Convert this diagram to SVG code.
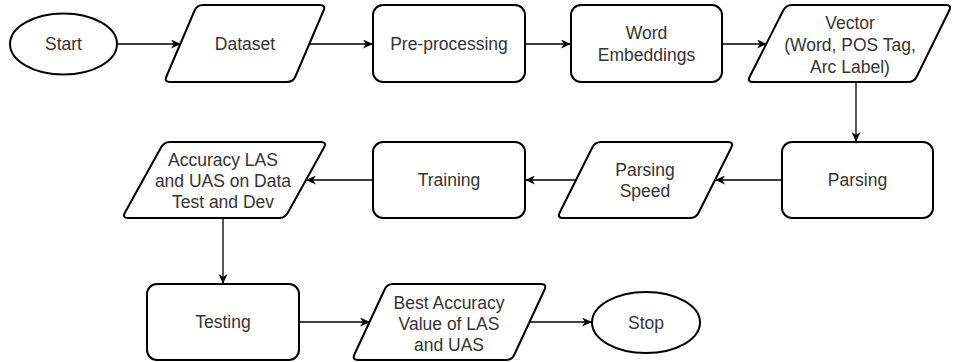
<svg xmlns="http://www.w3.org/2000/svg" width="958" height="362" viewBox="0 0 958 362">
<defs>
<marker id="arr" markerUnits="userSpaceOnUse" markerWidth="11" markerHeight="9" refX="10" refY="4.5" orient="auto">
<path d="M0,0 L10,4.5 L0,9 L3,4.5 Z" fill="#000"/>
</marker>
<style>
.shape{fill:#fff;stroke:#000;stroke-width:2}
.conn{fill:none;stroke:#000;stroke-width:1.3;marker-end:url(#arr)}
text{font-family:"Liberation Sans",Arial,sans-serif;font-size:17.5px;fill:#333;text-anchor:middle;dominant-baseline:central}
</style>
</defs>
<rect width="958" height="362" fill="#fff"/>
<g id="connectors">
<path class="conn" d="M117,44 H181"/>
<path class="conn" d="M310,44 H373"/>
<path class="conn" d="M525,44 H571"/>
<path class="conn" d="M722,44 H767"/>
<path class="conn" d="M856,82 V142"/>
<path class="conn" d="M782,180 H715"/>
<path class="conn" d="M576,180 H525"/>
<path class="conn" d="M373,180 H306"/>
<path class="conn" d="M223,218 V284"/>
<path class="conn" d="M299,322 H370"/>
<path class="conn" d="M530,322 H592"/>
</g>
<g id="start">
<ellipse class="shape" cx="63.5" cy="44" rx="53.5" ry="30.5"/>
<text x="63.5" y="44">Start</text>
</g>
<g id="dataset">
<path class="shape" d="M203,5 H320 Q326,5 323.6,10.5 L295.4,76.5 Q293,82 287,82 H170 Q164,82 166.4,76.5 L194.6,10.5 Q197,5 203,5 Z"/>
<text x="245" y="44">Dataset</text>
</g>
<g id="preprocessing">
<rect class="shape" x="373" y="5" width="152" height="77" rx="10"/>
<text x="449" y="44">Pre-processing</text>
</g>
<g id="word-embeddings">
<rect class="shape" x="571" y="5" width="151" height="77" rx="10"/>
<text x="646.5" y="33">Word</text>
<text x="646.5" y="55">Embeddings</text>
</g>
<g id="vector">
<path class="shape" d="M792,5 H946 Q952,5 949.2,10.5 L916.8,76.5 Q914,82 908,82 H753 Q747,82 749.8,76.5 L783.2,10.5 Q786,5 792,5 Z"/>
<text x="850" y="23">Vector</text>
<text x="850" y="45">(Word, POS Tag,</text>
<text x="850" y="67">Arc Label)</text>
</g>
<g id="parsing">
<rect class="shape" x="782" y="142" width="151" height="76" rx="10"/>
<text x="857.5" y="180">Parsing</text>
</g>
<g id="parsing-speed">
<path class="shape" d="M601,142 H728 Q734,142 731.3,147.5 L698.7,212.5 Q696,218 690,218 H563 Q557,218 559.7,212.5 L592.3,147.5 Q595,142 601,142 Z"/>
<text x="645" y="170">Parsing</text>
<text x="645" y="191">Speed</text>
</g>
<g id="training">
<rect class="shape" x="373" y="142" width="152" height="76" rx="10"/>
<text x="449" y="180">Training</text>
</g>
<g id="accuracy">
<path class="shape" d="M170,142 H321 Q327,142 324,147.5 L288,212.5 Q285,218 279,218 H128 Q122,218 125,212.5 L161,147.5 Q164,142 170,142 Z"/>
<text x="223" y="160">Accuracy LAS</text>
<text x="223" y="181">and UAS on Data</text>
<text x="223" y="202">Test and Dev</text>
</g>
<g id="testing">
<rect class="shape" x="147" y="284" width="152" height="76" rx="10"/>
<text x="223" y="322">Testing</text>
</g>
<g id="best-accuracy">
<path class="shape" d="M393,284 H541 Q547,284 544.6,289.5 L514.4,354.5 Q512,360 506,360 H358 Q352,360 354.4,354.5 L384.6,289.5 Q387,284 393,284 Z"/>
<text x="449" y="303">Best Accuracy</text>
<text x="449" y="324">Value of LAS</text>
<text x="449" y="345">and UAS</text>
</g>
<g id="stop">
<ellipse class="shape" cx="646" cy="322.5" rx="54" ry="30.5"/>
<text x="646" y="322.5">Stop</text>
</g>
</svg>
